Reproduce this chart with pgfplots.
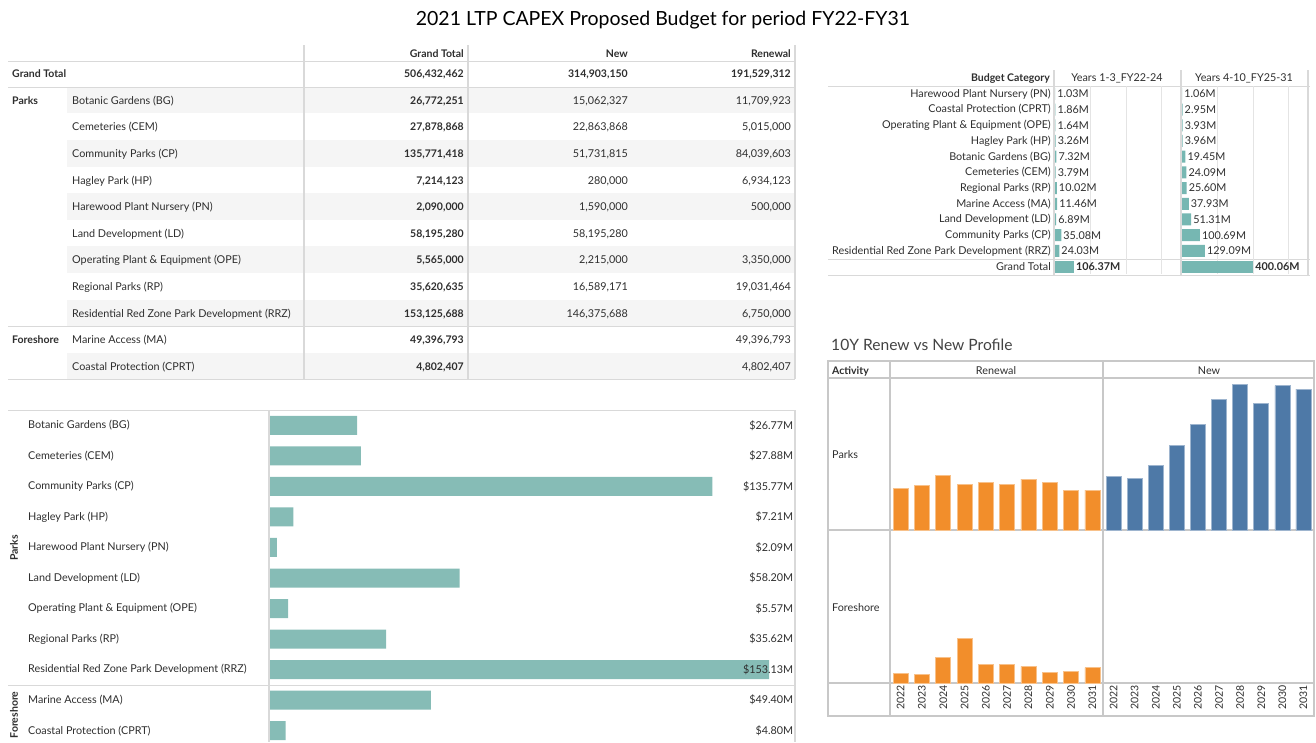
\documentclass[border=0pt]{standalone}
\usepackage{pgfplots}
\pgfplotsset{compat=1.18}
\usepackage{pgfplotstable}
\usepackage{fontspec}
\setmainfont{Lato}

\definecolor{txt}{HTML}{2E2E2E}
\definecolor{rule}{HTML}{D9D9D9}
\definecolor{frame}{HTML}{C8C8C8}
\definecolor{rowshade}{HTML}{F5F5F5}
\definecolor{barteal}{HTML}{86BCB6}
\definecolor{tteal}{HTML}{76B7B2}
\definecolor{tborange}{HTML}{F28E2B}
\definecolor{tbblue}{HTML}{4E79A7}

\newcommand\fs[1]{\fontsize{#1}{#1}\selectfont}

% total budget by category, $M (bottom-left bars)
\pgfplotstableread{
i v
1 26.77
2 27.88
3 135.77
4 7.21
5 2.09
6 58.20
7 5.57
8 35.62
9 153.13
10 49.40
11 4.80
}\totals

% years 1-3 / years 4-10, $M (top-right)
\pgfplotstableread{
i early late
1 1.03 1.06
2 1.86 2.95
3 1.64 3.93
4 3.26 3.96
5 7.32 19.45
6 3.79 24.09
7 10.02 25.60
8 11.46 37.93
9 6.89 51.31
10 35.08 100.69
11 24.03 129.09
}\periods
\pgfplotstableread{
i early late
12 106.37 400.06
}\periodsgt

% 10 year profile, $M per year 2022..2031
\pgfplotstableread{
yr parkren parknew foreren
0 12.5 16.0 2.8
1 13.3 15.6 2.6
2 16.3 19.4 7.8
3 13.7 25.5 13.5
4 14.2 31.7 5.5
5 13.7 39.2 5.7
6 15.3 43.7 5.0
7 14.4 38.1 3.3
8 11.8 43.3 3.6
9 12.0 42.3 4.6
}\profile

\pgfplotsset{
  pane/.style={scale only axis, clip=false, axis line style={draw=none},
    tick style={draw=none}, /pgf/number format/assume math mode=true,
    ticklabel style={font=\fs{10.8}, text=txt}},
  years/.style={xtick={0,...,9},
    xticklabels={2022,2023,2024,2025,2026,2027,2028,2029,2030,2031},
    xticklabel style={rotate=90, anchor=east, inner sep=2pt, font=\fs{10.5}}},
}

\begin{document}
\begin{tikzpicture}[font=\fs{10.8}, text=txt,
  cell/.style={inner sep=0pt, text height=7.5pt, text depth=2pt, yshift=-1.5pt}]
\useasboundingbox (0pt,0pt) rectangle (1316pt,-742pt);

\node[font=\fs{19.5}, text=black] at (663pt,-20pt) {2021 LTP CAPEX Proposed Budget for period FY22-FY31};

% ---------- top-left table ----------
\foreach \y in {100,153.2,206.4,259.6,312.8,366}
  \fill[rowshade] (67pt,-\y*1pt+13.3pt) rectangle (795pt,-\y*1pt-13.3pt);
\foreach \y in {61,87,326,379}
  \draw[rule, line width=1pt] (8pt,-\y*1pt) -- (795pt,-\y*1pt);
\foreach \x in {304,468,795}
  \draw[rule, line width=1.5pt] (\x*1pt,-45pt) -- (\x*1pt,-379pt);
\node[cell, anchor=east, font=\fs{10.5}\bfseries] at (464pt,-53pt) {Grand Total};
\node[cell, anchor=east, font=\fs{10.5}\bfseries] at (628pt,-53pt) {New};
\node[cell, anchor=east, font=\fs{10.5}\bfseries] at (791pt,-53pt) {Renewal};
\node[cell, anchor=west, font=\fs{10.5}\bfseries] at (12pt,-73.5pt) {Grand Total};
\node[cell, anchor=east, font=\fs{10.5}\bfseries] at (464pt,-73.5pt) {506,432,462};
\node[cell, anchor=east, font=\fs{10.5}\bfseries] at (628pt,-73.5pt) {314,903,150};
\node[cell, anchor=east, font=\fs{10.5}\bfseries] at (791pt,-73.5pt) {191,529,312};
\node[cell, anchor=west, font=\fs{10.5}\bfseries] at (12pt,-100pt) {Parks};
\node[cell, anchor=west, font=\fs{10.5}\bfseries] at (12pt,-339.4pt) {Foreshore};
\foreach \y/\n/\g/\w/\r in {
  100/{Botanic Gardens (BG)}/{26,772,251}/{15,062,327}/{11,709,923},
  126.6/{Cemeteries (CEM)}/{27,878,868}/{22,863,868}/{5,015,000},
  153.2/{Community Parks (CP)}/{135,771,418}/{51,731,815}/{84,039,603},
  179.8/{Hagley Park (HP)}/{7,214,123}/{280,000}/{6,934,123},
  206.4/{Harewood Plant Nursery (PN)}/{2,090,000}/{1,590,000}/{500,000},
  233/{Land Development (LD)}/{58,195,280}/{58,195,280}/{},
  259.6/{Operating Plant \& Equipment (OPE)}/{5,565,000}/{2,215,000}/{3,350,000},
  286.2/{Regional Parks (RP)}/{35,620,635}/{16,589,171}/{19,031,464},
  312.8/{Residential Red Zone Park Development (RRZ)}/{153,125,688}/{146,375,688}/{6,750,000},
  339.4/{Marine Access (MA)}/{49,396,793}/{}/{49,396,793},
  366/{Coastal Protection (CPRT)}/{4,802,407}/{}/{4,802,407}}{
  \node[cell, anchor=west] at (72pt,-\y*1pt) {\n};
  \node[cell, anchor=east, font=\fs{10.5}\bfseries] at (464pt,-\y*1pt) {\g};
  \node[cell, anchor=east] at (628pt,-\y*1pt) {\w};
  \node[cell, anchor=east] at (791pt,-\y*1pt) {\r};
}

% ---------- bottom-left bars ----------
\draw[rule, line width=1pt] (8pt,-410pt) -- (795pt,-410pt);
\draw[rule, line width=1pt] (8pt,-685pt) -- (795pt,-685pt);
\draw[rule, line width=1.5pt] (269pt,-410pt) -- (269pt,-742pt);
\draw[rule, line width=1.5pt] (795pt,-410pt) -- (795pt,-742pt);
\node[rotate=90, font=\fs{10.5}\bfseries] at (14pt,-548pt) {Parks};
\node[rotate=90, font=\fs{10.5}\bfseries] at (14pt,-715pt) {Foreshore};
\begin{axis}[pane, at={(270pt,-410pt)}, anchor=north west, width=525pt, height=336pt,
  xmin=0, xmax=161.1, ymin=0.5, ymax=11.5, y dir=reverse, xtick=\empty, ytick={1,...,11},
  yticklabels={Botanic Gardens (BG), Cemeteries (CEM), Community Parks (CP), Hagley Park (HP),
    Harewood Plant Nursery (PN), Land Development (LD), Operating Plant \& Equipment (OPE),
    Regional Parks (RP), Residential Red Zone Park Development (RRZ), Marine Access (MA),
    Coastal Protection (CPRT)},
  yticklabel style={anchor=west, inner sep=0pt, xshift=-242pt}]
\addplot[xbar, bar shift=0pt, bar width=19pt, fill=barteal, draw=none] table[x=v, y=i] {\totals};
\addplot[draw=none, point meta=explicit,
  nodes near coords={\$\pgfmathprintnumber[fixed,fixed zerofill,precision=2]{\pgfplotspointmeta}M},
  nodes near coords style={anchor=east, inner sep=0pt, text=txt, font=\fs{10.8}}]
  table[x expr=160.6, y=i, meta=v] {\totals};
\end{axis}

% ---------- top-right split table ----------
\foreach \y in {86,259,275}
  \draw[rule, line width=1pt] (828pt,-\y*1pt) -- (1310pt,-\y*1pt);
\foreach \x in {1054,1181,1308}
  \draw[rule, line width=1.2pt] (\x*1pt,-70pt) -- (\x*1pt,-275pt);
\node[cell, anchor=east, font=\fs{10.5}\bfseries] at (1050pt,-77pt) {Budget Category};
\node[cell] at (1117pt,-77pt) {Years 1-3\_FY22-24};
\node[cell] at (1244pt,-77pt) {Years 4-10\_FY25-31};
\begin{axis}[pane, at={(1055pt,-86pt)}, anchor=north west, width=125pt, height=188.4pt,
  xmin=0, xmax=702, ymin=0.5, ymax=12.5, y dir=reverse,
  xtick={200,400,600}, xticklabels={}, xmajorgrids, grid style={rule!70!white, line width=0.7pt},
  ytick={1,...,12},
  yticklabels={Harewood Plant Nursery (PN), Coastal Protection (CPRT), Operating Plant \& Equipment (OPE),
    Hagley Park (HP), Botanic Gardens (BG), Cemeteries (CEM), Regional Parks (RP), Marine Access (MA),
    Land Development (LD), Community Parks (CP), Residential Red Zone Park Development (RRZ), Grand Total},
  yticklabel style={inner sep=4pt}]
\addplot[xbar, bar shift=0pt, bar width=12pt, fill=tteal, draw=none, point meta=x,
  nodes near coords={\pgfmathprintnumber[fixed,fixed zerofill,precision=2]{\pgfplotspointmeta}M},
  nodes near coords style={anchor=west, inner sep=2pt, text=txt, font=\fs{10.8}}]
  table[x=early, y=i] {\periods};
\addplot[xbar, bar shift=0pt, bar width=12pt, fill=tteal, draw=none, point meta=x,
  nodes near coords={\pgfmathprintnumber[fixed,fixed zerofill,precision=2]{\pgfplotspointmeta}M},
  nodes near coords style={anchor=west, inner sep=2pt, text=txt, font=\fs{10.8}\bfseries}]
  table[x=early, y=i] {\periodsgt};
\end{axis}
\begin{axis}[pane, at={(1182pt,-86pt)}, anchor=north west, width=126pt, height=188.4pt,
  xmin=0, xmax=708, ymin=0.5, ymax=12.5, y dir=reverse,
  xtick={200,400,600}, xticklabels={}, xmajorgrids, grid style={rule!70!white, line width=0.7pt},
  ytick=\empty]
\addplot[xbar, bar shift=0pt, bar width=12pt, fill=tteal, draw=none, point meta=x,
  nodes near coords={\pgfmathprintnumber[fixed,fixed zerofill,precision=2]{\pgfplotspointmeta}M},
  nodes near coords style={anchor=west, inner sep=2pt, text=txt, font=\fs{10.8}}]
  table[x=late, y=i] {\periods};
\addplot[xbar, bar shift=0pt, bar width=12pt, fill=tteal, draw=none, point meta=x,
  nodes near coords={\pgfmathprintnumber[fixed,fixed zerofill,precision=2]{\pgfplotspointmeta}M},
  nodes near coords style={anchor=west, inner sep=2pt, text=txt, font=\fs{10.8}\bfseries}]
  table[x=late, y=i] {\periodsgt};
\end{axis}

% ---------- 10Y profile ----------
\node[anchor=west, inner sep=0pt, font=\fs{15.6}, text=txt!90!white] at (831pt,-345pt) {10Y Renew vs New Profile};
\draw[frame, line width=1.2pt] (828pt,-361pt) rectangle (1314pt,-716pt);
\foreach \y in {378,530,683}
  \draw[frame, line width=1.2pt] (828pt,-\y*1pt) -- (1314pt,-\y*1pt);
\foreach \x in {890,1103}
  \draw[frame, line width=1.2pt] (\x*1pt,-361pt) -- (\x*1pt,-716pt);
\node[cell, anchor=west, font=\fs{10.5}\bfseries] at (832pt,-370pt) {Activity};
\node[cell] at (996pt,-370pt) {Renewal};
\node[cell] at (1209pt,-370pt) {New};
\node[cell, anchor=west] at (832pt,-454pt) {Parks};
\node[cell, anchor=west] at (832pt,-607pt) {Foreshore};
\begin{axis}[pane, at={(890pt,-530pt)}, anchor=south west, width=213pt, height=152pt,
  xmin=-0.5, xmax=9.5, ymin=0, ymax=45.6, xtick=\empty, ytick=\empty]
\addplot[ybar, bar shift=0pt, bar width=15pt, fill=tborange, draw=tborange!55!white, line width=0.7pt]
  table[x=yr, y=parkren] {\profile};
\end{axis}
\begin{axis}[pane, at={(1103pt,-530pt)}, anchor=south west, width=211pt, height=152pt,
  xmin=-0.5, xmax=9.5, ymin=0, ymax=45.6, xtick=\empty, ytick=\empty]
\addplot[ybar, bar shift=0pt, bar width=15pt, fill=tbblue, draw=tbblue!55!white, line width=0.7pt]
  table[x=yr, y=parknew] {\profile};
\end{axis}
\begin{axis}[pane, years, at={(890pt,-683pt)}, anchor=south west, width=213pt, height=152pt,
  xmin=-0.5, xmax=9.5, ymin=0, ymax=45.6, ytick=\empty]
\addplot[ybar, bar shift=0pt, bar width=15pt, fill=tborange, draw=tborange!55!white, line width=0.7pt]
  table[x=yr, y=foreren] {\profile};
\end{axis}
\begin{axis}[pane, years, at={(1103pt,-683pt)}, anchor=south west, width=211pt, height=152pt,
  xmin=-0.5, xmax=9.5, ymin=0, ymax=45.6, ytick=\empty]
\end{axis}
\end{tikzpicture}
\end{document}
